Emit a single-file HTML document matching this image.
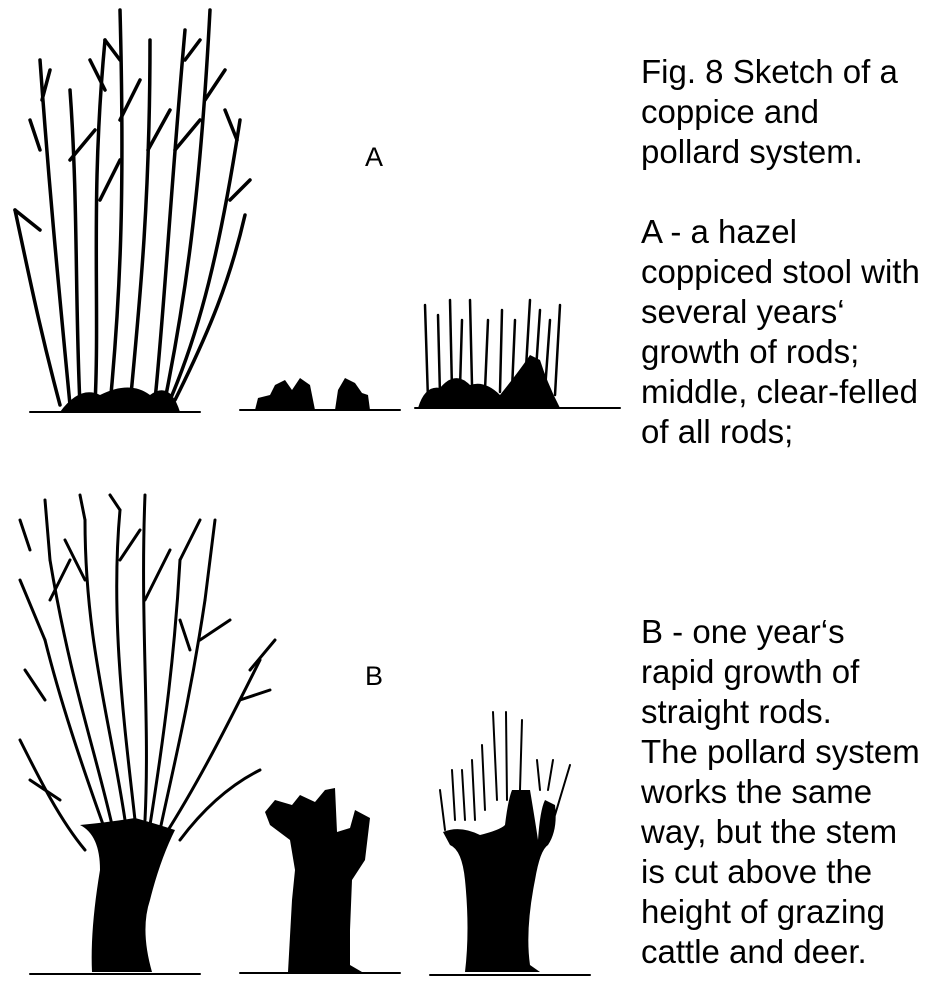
<!DOCTYPE html>
<html><head><style>
html,body{margin:0;padding:0;background:#fff;width:945px;height:996px;overflow:hidden}
.t{position:absolute;left:641px;font-family:"Liberation Sans",Arial,sans-serif;font-size:33px;line-height:40px;color:#000;white-space:nowrap}
.l{position:absolute;font-family:"Liberation Sans",Arial,sans-serif;font-size:27px;color:#000}
svg{position:absolute;left:0;top:0}
</style></head><body>
<svg width="945" height="996" viewBox="0 0 945 996">
<g stroke="#000" fill="none" stroke-linecap="round">
<line x1="30" y1="412" x2="200" y2="412" stroke-width="2"/>
<line x1="240" y1="410" x2="400" y2="410" stroke-width="2"/>
<line x1="415" y1="408" x2="620" y2="408" stroke-width="2"/>
<g stroke-width="3.5">
<path d="M70 405 C60 300 50 200 40 60"/><path d="M40 230 L15 210"/><path d="M40 150 L30 120"/><path d="M42 100 L50 70"/>
<path d="M80 405 C75 300 78 200 70 90"/><path d="M70 160 L95 130"/>
<path d="M95 405 C100 300 90 200 105 40"/><path d="M100 200 L120 160"/><path d="M105 90 L90 60"/>
<path d="M110 405 C120 300 125 200 120 10"/><path d="M120 120 L140 80"/><path d="M120 60 L105 40"/>
<path d="M130 405 C140 300 150 200 150 40"/><path d="M148 150 L170 110"/>
<path d="M155 400 C165 300 170 200 185 30"/><path d="M175 150 L200 120"/><path d="M185 60 L200 40"/>
<path d="M165 400 C185 300 200 200 210 10"/><path d="M205 100 L225 70"/>
<path d="M170 400 C200 330 220 250 240 120"/><path d="M230 200 L250 180"/><path d="M237 140 L225 110"/>
<path d="M60 405 C40 330 30 280 15 210"/><path d="M175 400 C210 330 230 280 245 215"/>
</g>
<path d="M60 412 Q80 385 100 395 Q130 380 150 395 Q170 380 180 412 Z" fill="#000" stroke="none"/>
<path d="M255 410 L258 398 L270 395 L275 385 L285 380 L292 390 L300 378 L310 385 L315 410 Z" fill="#000" stroke="none"/>
<path d="M335 410 L338 390 L345 378 L355 383 L362 393 L368 395 L370 410 Z" fill="#000" stroke="none"/>
<g stroke-width="2.5">
<path d="M428 400 L425 305"/><path d="M440 395 L438 315"/><path d="M452 390 L450 300"/><path d="M460 388 L462 320"/>
<path d="M472 385 L470 300"/><path d="M485 390 L488 320"/><path d="M500 392 L502 310"/><path d="M512 390 L515 320"/>
<path d="M525 385 L530 300"/><path d="M535 385 L540 310"/><path d="M545 390 L550 320"/><path d="M555 395 L560 305"/>
</g>
<path d="M418 408 Q425 385 440 388 Q455 370 470 385 Q485 380 500 395 Q520 370 530 355 L540 360 Q548 385 560 408 Z" fill="#000" stroke="none"/>
<g stroke-width="3">
<path d="M105 830 C80 760 60 700 45 640"/><path d="M45 640 L20 580"/><path d="M45 700 L25 670"/><path d="M30 550 L20 520"/>
<path d="M112 825 C95 750 70 680 50 560"/><path d="M50 560 L45 500"/><path d="M50 600 L70 560"/>
<path d="M125 820 C110 720 85 640 85 520"/><path d="M85 580 L65 540"/><path d="M85 520 L80 495"/>
<path d="M135 820 C125 730 110 620 120 510"/><path d="M120 560 L140 530"/><path d="M120 510 L110 495"/>
<path d="M145 820 C150 720 140 620 145 495"/><path d="M145 600 L170 550"/>
<path d="M150 825 C165 730 175 650 180 560"/><path d="M180 560 L200 520"/><path d="M180 620 L190 650"/>
<path d="M160 830 C175 760 190 700 205 600"/><path d="M205 600 L215 520"/><path d="M200 640 L230 620"/>
<path d="M165 835 C200 780 230 720 260 660"/><path d="M240 700 L270 690"/><path d="M250 670 L275 640"/>
<path d="M180 840 C210 800 240 780 260 770"/><path d="M85 850 C60 820 40 780 20 740"/>
<path d="M60 800 L30 780"/>
</g>
<path d="M80 825 Q100 835 100 870 Q90 930 92 972 L152 972 Q140 930 150 900 Q160 860 175 830 Q150 822 135 818 Q110 822 80 825 Z" fill="#000" stroke="none"/>
<path d="M265 812 L275 800 L292 805 L300 795 L315 802 L325 790 L335 788 L337 832 L350 828 L355 810 L370 818 L365 860 L352 880 L350 930 L350 965 L362 972 L288 972 L292 900 L295 870 L290 840 L270 825 Z" fill="#000" stroke="none"/>
<line x1="240" y1="973" x2="400" y2="973" stroke-width="2"/>
<g stroke-width="2">
<path d="M445 830 L440 790"/><path d="M455 820 L452 770"/><path d="M465 820 L462 770"/><path d="M475 820 L472 760"/>
<path d="M485 810 L482 745"/><path d="M497 800 L493 712"/><path d="M507 800 L506 712"/><path d="M520 790 L522 720"/>
<path d="M540 790 L537 760"/><path d="M548 790 L553 760"/><path d="M555 815 L570 765"/>
</g>
<path d="M443 832 Q460 825 480 835 Q500 830 505 825 Q508 800 512 790 L530 790 Q535 820 538 840 Q540 810 545 800 L555 805 Q558 830 548 845 Q540 850 535 880 Q525 930 530 965 L540 972 L465 972 Q470 930 465 880 Q462 850 450 845 Z" fill="#000" stroke="none"/>
<line x1="30" y1="974" x2="200" y2="974" stroke-width="2"/>
<line x1="430" y1="975" x2="590" y2="975" stroke-width="2"/>
</g>
</svg>
<div class="l" style="left:365px;top:142px">A</div>
<div class="l" style="left:365px;top:661px">B</div>
<div class="t" style="top:52px">Fig. 8 Sketch of a<br>coppice and<br>pollard system.<br><br>A - a hazel<br>coppiced stool with<br>several years‘<br>growth of rods;<br>middle, clear-felled<br>of all rods;</div>
<div class="t" style="top:612px">B - one year‘s<br>rapid growth of<br>straight rods.<br>The pollard system<br>works the same<br>way, but the stem<br>is cut above the<br>height of grazing<br>cattle and deer.</div>
</body></html>
